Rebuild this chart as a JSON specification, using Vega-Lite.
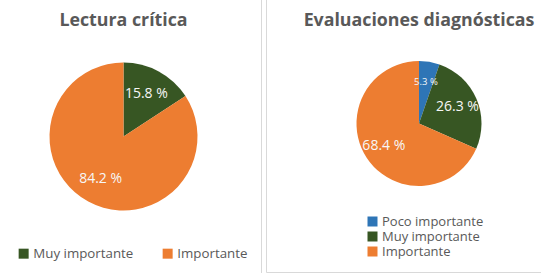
{
  "$schema": "https://vega.github.io/schema/vega-lite/v6.json",
  "padding": {"left": -15, "top": -26, "right": 0, "bottom": 0},
  "spacing": 5,
  "bounds": "flush",
  "background": "white",
  "config": {
    "font": "Open Sans",
    "view": {"stroke": "#d9d9d9", "strokeWidth": 1},
    "title": {"font": "Open Sans", "fontSize": 17.8, "fontWeight": "bold", "color": "#595959", "anchor": "middle", "orient": "top", "offset": -55, "baseline": "alphabetic"},
    "legend": {"orient": "none", "title": null, "symbolType": "square", "symbolSize": 100, "symbolStrokeWidth": 0, "labelFont": "Open Sans", "labelFontSize": 13.3, "labelColor": "#595959", "labelOffset": 3, "padding": 0}
  },
  "resolve": {"scale": {"color": "independent", "theta": "independent"}, "legend": {"color": "independent"}},
  "hconcat": [
    {
      "width": 275,
      "height": 323,
      "view": {"stroke": "#d9d9d9", "strokeWidth": 1},
      "title": "Lectura crítica",
      "data": {"values": [
        {"categoria": "Muy importante", "valor": 15.8, "etiqueta": "15.8 %", "orden": 1},
        {"categoria": "Importante", "valor": 84.2, "etiqueta": "84.2 %", "orden": 2}
      ]},
      "encoding": {
        "theta": {"field": "valor", "type": "quantitative", "stack": true},
        "order": {"field": "orden", "type": "quantitative"},
        "color": {
          "field": "categoria", "type": "nominal",
          "scale": {"domain": ["Muy importante", "Importante"], "range": ["#375623", "#ED7D31"]},
          "legend": {"direction": "horizontal", "legendX": 31, "legendY": 272, "columnPadding": 27}
        }
      },
      "layer": [
        {"mark": {"type": "arc", "outerRadius": 74}},
        {"mark": {"type": "text", "radius": 48, "fontSize": 14, "font": "Open Sans"},
         "encoding": {"text": {"field": "etiqueta", "type": "nominal"}, "color": {"value": "#f7f7f7"}}}
      ]
    },
    {
      "width": 306,
      "height": 297,
      "view": {"stroke": "#d9d9d9", "strokeWidth": 1},
      "title": "Evaluaciones diagnósticas",
      "data": {"values": [
        {"categoria": "Poco importante", "valor": 5.3, "etiqueta": "5.3 %", "orden": 1},
        {"categoria": "Muy importante", "valor": 26.3, "etiqueta": "26.3 %", "orden": 2},
        {"categoria": "Importante", "valor": 68.4, "etiqueta": "68.4 %", "orden": 3}
      ]},
      "encoding": {
        "theta": {"field": "valor", "type": "quantitative", "stack": true},
        "order": {"field": "orden", "type": "quantitative"},
        "color": {
          "field": "categoria", "type": "nominal",
          "scale": {"domain": ["Poco importante", "Muy importante", "Importante"], "range": ["#2E75B6", "#375623", "#ED7D31"]},
          "legend": {"direction": "vertical", "legendX": 100, "legendY": 240, "rowPadding": 1, "labelFontSize": 13}
        }
      },
      "layer": [
        {"mark": {"type": "arc", "outerRadius": 62.5}},
        {"mark": {"type": "text", "radius": 42, "font": "Open Sans"},
         "encoding": {
           "text": {"field": "etiqueta", "type": "nominal"},
           "color": {"value": "#f7f7f7"},
           "size": {"condition": {"test": "datum.valor < 10", "value": 9.5}, "value": 14}
         }}
      ]
    }
  ]
}
